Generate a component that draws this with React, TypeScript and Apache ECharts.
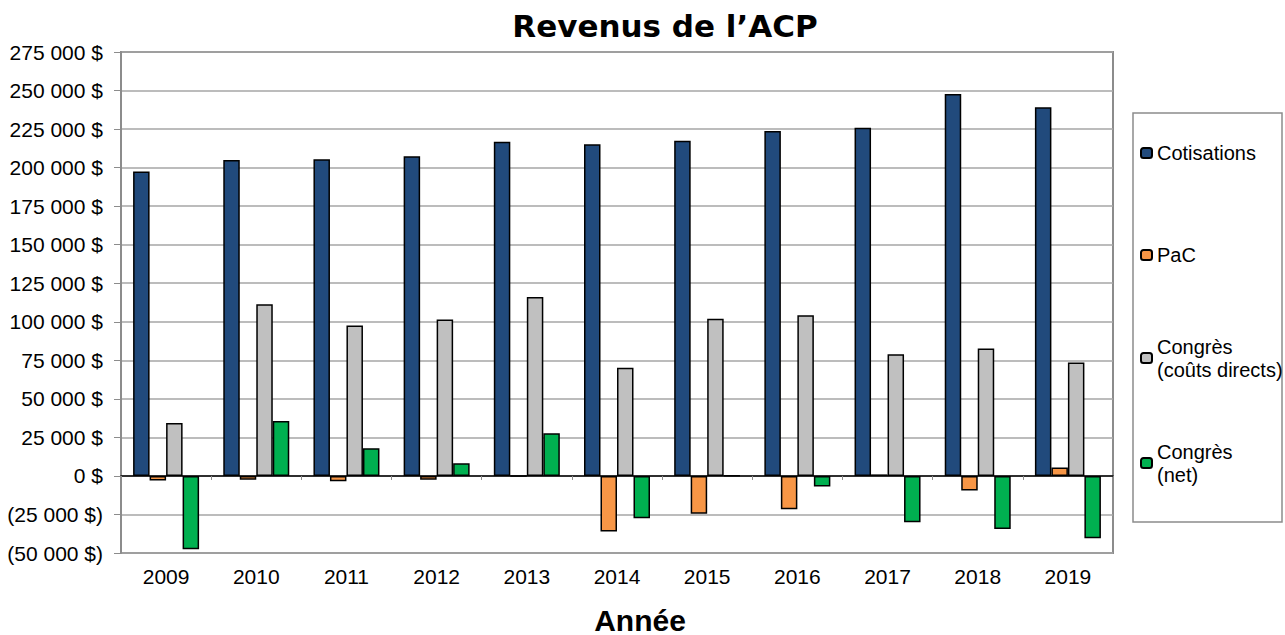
import React, { useEffect, useRef } from "react";
import * as echarts from "echarts";

const years = ["2009", "2010", "2011", "2012", "2013", "2014", "2015", "2016", "2017", "2018", "2019"];
const cotisations = [197500, 205000, 205500, 207300, 216800, 215100, 217500, 223700, 225900, 247700, 239100];
const pac = [-3000, -2500, -3500, -2500, 0, -36000, -24600, -21600, 1000, -9500, 5400];
const congresDirects = [34300, 111300, 97500, 101400, 116100, 70200, 102000, 104200, 78900, 82600, 73500];
const congresNet = [-47500, 35700, 18000, 8200, 27700, -27400, 300, -6900, -30000, -34400, -40400];
const seriesNames = ["Cotisations", "PaC", "Congrès\n(coûts directs)", "Congrès\n(net)"];
const seriesColors = ["#214a7c", "#f79646", "#c0c0c0", "#00b050"];

function fmtMoney(v: number): string {
  const abs = Math.abs(v);
  const s = String(abs).replace(/\B(?=(\d{3})+(?!\d))/g, " ");
  return v < 0 ? `(${s} $)` : `${s} $`;
}

export default function App() {
  const ref = useRef<HTMLDivElement>(null);
  useEffect(() => {
    if (!ref.current) return;
    const chart = echarts.init(ref.current, undefined, { renderer: "svg" });
    const font = "'Liberation Sans', Arial, sans-serif";
    const values = [cotisations, pac, congresDirects, congresNet];
    const legendCenters = [153, 255, 358, 463];
    const lh = 23;
    const legends = seriesNames.map((name, i) => {
      const multi = name.includes("\n");
      return {
        show: true,
        data: [name],
        orient: "vertical",
        left: 1140,
        top: legendCenters[i] - (multi ? lh * 1.5 : lh / 2),
        padding: 0,
        itemWidth: 11,
        itemHeight: 10,
        selectedMode: false,
        textStyle: {
          fontFamily: font,
          fontSize: 20,
          color: "#000",
          lineHeight: lh,
          padding: multi ? [lh, 0, 0, 0] : 0,
        },
      };
    });
    chart.setOption({
      animation: false,
      backgroundColor: "#fff",
      title: {
        text: "Revenus de l\u2019ACP",
        left: 660,
        top: 5,
        textAlign: "center",
        textStyle: {
          fontFamily: "'DejaVu Sans', Verdana, sans-serif",
          fontWeight: "bold",
          fontSize: 31,
          color: "#000",
        },
      },
      legend: legends,
      graphic: [
        {
          type: "rect",
          shape: { x: 1133, y: 113, width: 149, height: 409 },
          style: { fill: "none", stroke: "#8c8c8c", lineWidth: 1.5 },
          silent: true,
        },
      ],
      grid: {
        left: 121,
        right: 172,
        top: 52,
        bottom: 82,
        show: true,
        borderColor: "#8c8c8c",
        borderWidth: 2,
        containLabel: false,
        outerBoundsMode: "none",
      },
      xAxis: [
        {
          type: "category",
          data: years,
          position: "bottom",
          axisLine: { show: false, onZero: false },
          axisTick: { show: false },
          axisLabel: { fontFamily: font, fontSize: 21, color: "#000", margin: 13 },
          name: "Année",
          nameLocation: "middle",
          nameGap: 54,
          nameTextStyle: {
            fontFamily: font,
            fontSize: 30,
            fontWeight: "bold",
            color: "#000",
            lineHeight: 26,
            padding: [0, 0, 0, 46],
          },
        },
        {
          type: "category",
          data: years,
          position: "bottom",
          axisLine: { show: true, onZero: true, onZeroAxisIndex: 0, lineStyle: { color: "#000", width: 1.5 } },
          axisTick: { show: true, inside: false, length: 4, lineStyle: { color: "#8c8c8c", width: 1 } },
          axisLabel: { show: false },
          splitLine: { show: false },
        },
      ],
      yAxis: {
        type: "value",
        min: -50000,
        max: 275000,
        interval: 25000,
        axisLine: { show: true, lineStyle: { color: "#8c8c8c", width: 2 } },
        axisTick: { show: true, length: 7, lineStyle: { color: "#8c8c8c", width: 1 } },
        axisLabel: { fontFamily: font, fontSize: 21, color: "#000", margin: 18, formatter: (v: number) => fmtMoney(v) },
        splitLine: { show: true, lineStyle: { color: "#a6a6a6", width: 1.5 } },
      },
      series: seriesNames.map((name, i) => ({
        name,
        type: "bar",
        xAxisIndex: 0,
        data: values[i],
        barWidth: 16.5,
        barGap: "0%",
        itemStyle: { color: seriesColors[i], borderColor: "#000", borderWidth: 1.5 },
      })),
    });
    return () => chart.dispose();
  }, []);
  return <div ref={ref} style={{ width: 1285, height: 635, position: "absolute", left: 0, top: 0 }} />;
}
